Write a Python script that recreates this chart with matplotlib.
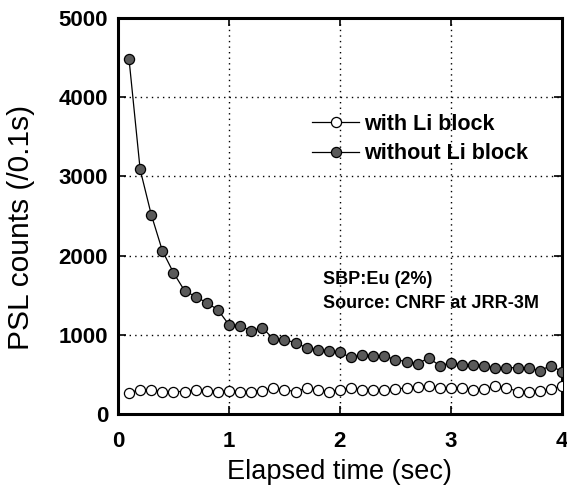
import matplotlib
matplotlib.use("Agg")
import matplotlib.pyplot as plt
import numpy as np

time_s = [round(0.1 * i, 1) for i in range(1, 41)]

with_li = [270, 304, 304, 283, 283, 283, 304, 295, 283, 291,
           283, 283, 295, 325, 304, 283, 325, 304, 283, 304,
           333, 304, 304, 304, 309, 333, 346, 354, 333, 333,
           333, 304, 314, 354, 333, 283, 283, 290, 310, 354]

without_li = [4481, 3089, 2519, 2063, 1785, 1557, 1481, 1405, 1316, 1127,
              1114, 1050, 1089, 949, 937, 899, 835, 810, 797, 776,
              713, 747, 734, 734, 684, 662, 633, 709, 608, 646,
              620, 620, 608, 582, 586, 582, 582, 548, 608, 535]

x_ticks = [0, 1, 2, 3, 4]
y_ticks = [0, 1000, 2000, 3000, 4000, 5000]

plt.rcParams['font.family'] = ['Liberation Sans', 'DejaVu Sans']

fig = plt.figure(figsize=(5.67, 4.91), dpi=100)
ax = fig.add_axes([0.208, 0.157, 0.783, 0.806])

ax.plot(time_s, with_li, '-o', color='black', lw=0.9, ms=7.3,
        mfc='white', mec='black', mew=0.9, label='with Li block', zorder=3)
ax.plot(time_s, without_li, '-o', color='black', lw=0.9, ms=7.3,
        mfc='#5a5a5a', mec='black', mew=0.9, label='without Li block', zorder=3)

ax.set_xlim(0, 4)
ax.set_ylim(0, 5000)
ax.set_xticks(x_ticks)
ax.set_yticks(y_ticks)
ax.set_xticklabels([str(v) for v in x_ticks], fontsize=16, fontweight='bold')
ax.set_yticklabels([str(v) for v in y_ticks], fontsize=16, fontweight='bold')
ax.tick_params(direction='in', length=6, width=1.2, top=True, right=True)
ax.tick_params(axis='x', pad=12)
ax.tick_params(axis='y', pad=7)
ax.grid(True, linestyle=(0, (1, 3)), color='black', lw=1.0)

for s in ax.spines.values():
    s.set_linewidth(2.2)

ax.set_xlabel('Elapsed time (sec)', fontsize=19.5, labelpad=5)
ax.set_ylabel('PSL counts (/0.1s)', fontsize=21.5)
ax.yaxis.set_label_coords(-0.186, 0.472)

leg = ax.legend(frameon=False, loc='upper left', bbox_to_anchor=(0.437, 0.758),
                prop={'size': 15.5, 'weight': 'bold'}, handlelength=2.2,
                handletextpad=0.2, labelspacing=0.38, borderaxespad=0,
                borderpad=0)

ax.text(0.462, 0.339, 'SBP:Eu (2%)', transform=ax.transAxes, fontsize=13,
        fontweight='bold', va='center', ha='left')
ax.text(0.462, 0.280, 'Source: CNRF at JRR-3M', transform=ax.transAxes, fontsize=13,
        fontweight='bold', va='center', ha='left')

fig.savefig('out.png', dpi=100)
